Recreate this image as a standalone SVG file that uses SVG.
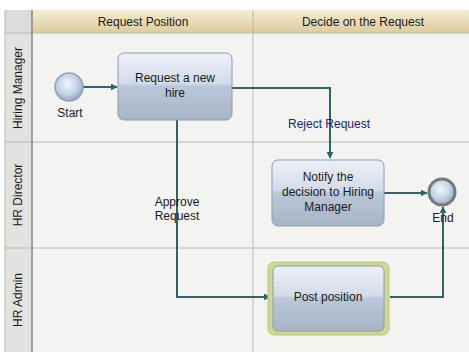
<svg xmlns="http://www.w3.org/2000/svg" width="469" height="352" viewBox="0 0 469 352">
<defs>
<linearGradient id="hdr" x1="0" y1="0" x2="0" y2="1">
<stop offset="0" stop-color="#f3ecd6"/>
<stop offset="0.5" stop-color="#e8dcb6"/>
<stop offset="1" stop-color="#dccb9c"/>
</linearGradient>
<linearGradient id="task" x1="0" y1="0" x2="0" y2="1">
<stop offset="0" stop-color="#eef0f6"/>
<stop offset="0.45" stop-color="#d3dcea"/>
<stop offset="0.5" stop-color="#b9c7d9"/>
<stop offset="1" stop-color="#a6b4c6"/>
</linearGradient>
<radialGradient id="evt" cx="0.45" cy="0.4" r="0.6">
<stop offset="0" stop-color="#f2f6fa"/>
<stop offset="0.6" stop-color="#c4d4e4"/>
<stop offset="1" stop-color="#93a9bf"/>
</radialGradient>
<marker id="arr" viewBox="0 0 10 10" refX="9" refY="5" markerWidth="7" markerHeight="7" orient="auto" markerUnits="userSpaceOnUse">
<path d="M0,0 L10,5 L0,10 z" fill="#2d6468"/>
</marker>
<style>
.t{font-family:"Liberation Sans",Arial,sans-serif;font-size:12px;fill:#1a1a1a;text-anchor:middle}
.grid{stroke:#b8b8b4;stroke-width:1;fill:none}
.conn{stroke:#2d6468;stroke-width:2;fill:none}
.box{fill:url(#task);stroke:#8d9cab;stroke-width:1}
</style>
</defs>
<rect x="0" y="0" width="469" height="352" fill="#ffffff"/>
<rect x="5" y="10" width="464" height="342" fill="#f3f3f1"/>
<g id="header">
<rect x="5" y="10" width="27" height="23" fill="#dcdcda"/>
<rect x="32" y="10" width="437" height="23" fill="url(#hdr)"/>
<text class="t" x="143" y="26">Request Position</text>
<text class="t" x="363" y="26">Decide on the Request</text>
</g>
<g id="lanes">
<rect x="5" y="33" width="27" height="319" fill="#e2e2e0"/>
<text class="t" transform="translate(22,88) rotate(-90)">Hiring Manager</text>
<text class="t" transform="translate(22,195) rotate(-90)">HR Director</text>
<text class="t" transform="translate(22,300) rotate(-90)">HR Admin</text>
</g>
<g id="grid">
<path class="grid" d="M5,33 H469 M5,142 H469 M5,248 H469 M32,10 V352 M253,10 V352 M5,10 V352"/>
<path d="M32,10 V352" stroke="#8c8c88" stroke-width="1.5"/>
</g>
<g id="connectors">
<path class="conn" d="M83,87 H117" marker-end="url(#arr)"/>
<path class="conn" d="M232,88 H330 V158" marker-end="url(#arr)"/>
<path class="conn" d="M177,120 V297 H270" marker-end="url(#arr)"/>
<path class="conn" d="M384,193 H427" marker-end="url(#arr)"/>
<path class="conn" d="M390,297 H443 V207" marker-end="url(#arr)"/>
<text class="t" x="329" y="128" style="fill:#22227a">Reject Request</text>
<text class="t" x="177" y="206">Approve</text>
<text class="t" x="177" y="220">Request</text>
</g>
<g id="start">
<circle cx="69" cy="87" r="14" fill="url(#evt)" stroke="#8fa3b6" stroke-width="1.5"/>
<text class="t" x="70" y="117">Start</text>
</g>
<g id="request">
<rect class="box" x="118" y="53" width="114" height="67" rx="6"/>
<text class="t" x="175" y="82">Request a new</text>
<text class="t" x="175" y="97">hire</text>
</g>
<g id="notify">
<rect class="box" x="272" y="160" width="112" height="66" rx="6"/>
<text class="t" x="328" y="181">Notify the</text>
<text class="t" x="328" y="196">decision to Hiring</text>
<text class="t" x="328" y="211">Manager</text>
</g>
<g id="end">
<circle cx="442" cy="192" r="13" fill="url(#evt)" stroke="#6f7a84" stroke-width="3"/>
<text class="t" x="443" y="222">End</text>
</g>
<g id="post">
<rect x="268" y="262" width="121" height="73" rx="6" fill="#cdd896" stroke="#b8c878" stroke-width="1"/>
<rect class="box" x="273" y="266" width="111" height="65" rx="5"/>
<text class="t" x="328" y="301">Post position</text>
</g>
</svg>
